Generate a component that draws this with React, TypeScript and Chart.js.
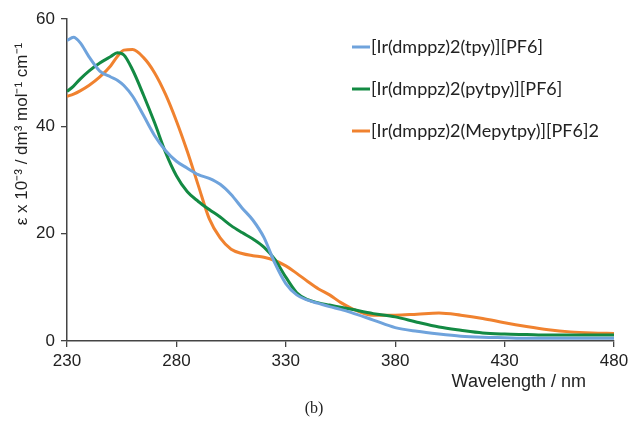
import React, { useEffect, useRef } from "react";
import { Chart, registerables } from "chart.js";

Chart.register(...registerables);

const wavelengths = [230, 233, 236, 240, 245, 250, 253, 256, 260, 265, 270, 275, 280, 285, 290, 295, 300, 305, 310, 315, 320, 325, 330, 335, 340, 345, 350, 355, 360, 370, 380, 390, 400, 410, 420, 430, 440, 450, 460, 470, 480];

const tpyValues = [56.0, 56.6, 55.6, 53.0, 50.3, 49.2, 48.6, 47.6, 45.6, 42.0, 38.3, 35.5, 33.5, 32.2, 31.0, 30.3, 29.2, 27.3, 24.8, 22.5, 19.3, 14.5, 10.7, 8.6, 7.6, 7.0, 6.4, 5.9, 5.3, 3.9, 2.5, 1.8, 1.3, 0.9, 0.7, 0.6, 0.5, 0.5, 0.5, 0.5, 0.5];

const pytpyValues = [46.5, 47.5, 48.8, 50.3, 51.8, 53.0, 53.7, 53.3, 50.5, 45.8, 40.7, 35.2, 30.8, 27.8, 26.0, 24.5, 23.1, 21.5, 20.2, 19.0, 17.5, 15.2, 11.9, 9.0, 7.7, 7.1, 6.7, 6.3, 5.9, 5.1, 4.5, 3.5, 2.6, 2.0, 1.5, 1.3, 1.2, 1.1, 1.1, 1.1, 1.1];

const mepytpyValues = [45.6, 46.0, 46.6, 47.6, 49.2, 51.3, 53.0, 54.2, 54.3, 52.8, 50.0, 46.0, 41.0, 35.3, 29.0, 22.8, 19.2, 17.1, 16.3, 15.9, 15.6, 15.0, 14.0, 12.6, 11.1, 9.7, 8.6, 7.2, 6.1, 4.8, 4.8, 5.0, 5.2, 4.8, 4.2, 3.4, 2.7, 2.1, 1.7, 1.5, 1.4];

const seriesLabels = ["[Ir(dmppz)2(tpy)][PF6]", "[Ir(dmppz)2(pytpy)][PF6]", "[Ir(dmppz)2(Mepytpy)][PF6]2"];
const seriesColors = ["#6FA3DC", "#138A43", "#F0822F"];

const xTitle = "Wavelength / nm";
const yTitle = "ε x 10⁻³ / dm³ mol⁻¹ cm⁻¹";
const caption = "(b)";

const axisFont = "'Liberation Sans', Arial, sans-serif";
const legendFont = "Lato, 'Open Sans', sans-serif";

export default function App() {
  const canvasRef = useRef<HTMLCanvasElement | null>(null);

  useEffect(() => {
    const canvas = canvasRef.current;
    if (!canvas) return;
    const series = [tpyValues, pytpyValues, mepytpyValues];

    const overlay = {
      id: "overlay",
      afterDraw(chart: any) {
        const { ctx, chartArea } = chart;
        ctx.save();
        ctx.fillStyle = "#222";
        ctx.font = `17px ${axisFont}`;
        ctx.textAlign = "center";
        ctx.textBaseline = "middle";
        ctx.translate(22, 134);
        ctx.rotate(-Math.PI / 2);
        ctx.fillText(yTitle, 0, 0);
        ctx.restore();

        ctx.save();
        ctx.fillStyle = "#222";
        ctx.font = `18px ${axisFont}`;
        ctx.textAlign = "right";
        ctx.textBaseline = "middle";
        ctx.fillText(xTitle, chartArea.right - 28, 382);
        ctx.restore();

        ctx.save();
        ctx.font = `18px ${legendFont}`;
        ctx.textBaseline = "middle";
        ctx.textAlign = "left";
        const rows = [47, 89, 131];
        seriesLabels.forEach((lab, i) => {
          ctx.strokeStyle = seriesColors[i];
          ctx.lineWidth = 3;
          ctx.beginPath();
          ctx.moveTo(352, rows[i]);
          ctx.lineTo(370, rows[i]);
          ctx.stroke();
          ctx.fillStyle = "#222";
          ctx.fillText(lab, 371, rows[i]);
        });
        ctx.restore();
      },
    };

    const chart = new Chart(canvas, {
      type: "line",
      data: {
        labels: wavelengths,
        datasets: seriesLabels.map((lab, i) => ({
          label: lab,
          data: wavelengths.map((w, j) => ({ x: w, y: series[i][j] })),
          borderColor: seriesColors[i],
          backgroundColor: seriesColors[i],
          borderWidth: 3,
          pointRadius: 0,
          cubicInterpolationMode: "monotone" as const,
          fill: false,
        })),
      },
      options: {
        animation: false,
        responsive: false,
        events: [],
        layout: { padding: { top: 19, right: 15, left: 0, bottom: 0 } },
        plugins: { legend: { display: false }, tooltip: { enabled: false }, title: { display: false } },
        scales: {
          x: {
            type: "linear",
            min: 230,
            max: 480,
            ticks: { stepSize: 50, color: "#222", font: { size: 17, family: axisFont }, padding: 4, maxRotation: 0 },
            grid: { display: true, drawOnChartArea: false, drawTicks: true, tickLength: 6, color: "#444", lineWidth: 1.3 },
            border: { display: true, color: "#444", width: 1.5 },
            afterFit(scale: any) {
              scale.height = 84;
              scale.paddingLeft = 0;
              scale.paddingRight = 0;
            },
          },
          y: {
            type: "linear",
            min: 0,
            max: 60,
            ticks: { stepSize: 20, color: "#222", font: { size: 17, family: axisFont }, padding: 6 },
            grid: { display: true, drawOnChartArea: false, drawTicks: true, tickLength: 6, color: "#444", lineWidth: 1.3 },
            border: { display: true, color: "#444", width: 1.5 },
            afterFit(scale: any) {
              scale.width = 67;
              scale.paddingTop = 0;
              scale.paddingBottom = 0;
            },
          },
        },
      },
      plugins: [overlay],
    });
    return () => chart.destroy();
  }, []);

  return (
    <div style={{ position: "fixed", left: 0, top: 0, width: 629, height: 425, background: "#fff", overflow: "hidden" }}>
      <canvas ref={canvasRef} width={629} height={425} style={{ display: "block" }} />
      <div
        style={{
          position: "absolute",
          left: 264,
          width: 100,
          top: 399,
          textAlign: "center",
          fontFamily: "'Liberation Serif', 'Times New Roman', serif",
          fontSize: 16,
          color: "#222",
        }}
      >
        {caption}
      </div>
    </div>
  );
}
